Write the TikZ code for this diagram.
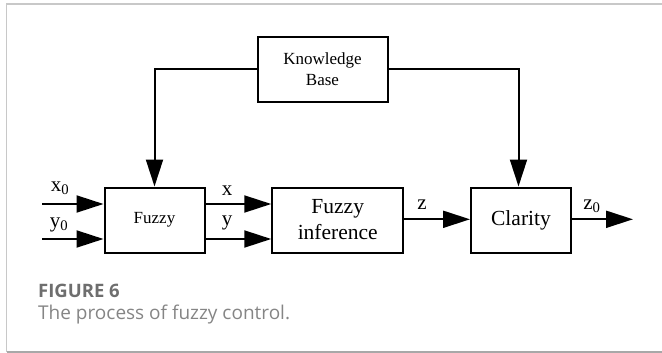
\documentclass[tikz,border=0pt]{standalone}
\usepackage{fontspec}
\setmainfont{Liberation Serif}
\newfontfamily\capfont{Open Sans}
\usetikzlibrary{arrows.meta}
\definecolor{framegray}{HTML}{C8C8C8}
\definecolor{framedark}{HTML}{A8A8A8}
\definecolor{captitle}{HTML}{6E6E6E}
\definecolor{captext}{HTML}{858585}
\tikzset{
  block/.style={draw, line width=2pt, rectangle, inner sep=0pt, align=center},
  flow/.style={line width=2pt, -{Triangle[length=27pt,width=17pt]}},
  sig/.style={inner sep=0pt, font=\fontsize{21}{24}\selectfont},
}
\begin{document}
\begin{tikzpicture}[x=1pt, y=-1pt]
  \useasboundingbox (0,0) rectangle (662,353);
  % outer frame
  \draw[framegray, line width=1.5pt] (6.5,352) -- (6.5,4) -- (662,4);
  \draw[framedark, line width=1.5pt] (6.5,352) -- (662,352);

  % blocks
  \node[block, minimum width=130pt, minimum height=65pt,
        font=\fontsize{17}{21}\selectfont] (kb) at (322.5,69.5) {Knowledge\\Base};
  \node[block, minimum width=100pt, minimum height=65pt,
        font=\fontsize{17}{20}\selectfont] (fz) at (154.5,220) {Fuzzy};
  \node[block, minimum width=131pt, minimum height=65pt,
        font=\fontsize{21.5}{26}\selectfont] (fi) at (337.75,220) {Fuzzy\\inference};
  \node[block, minimum width=100pt, minimum height=65pt,
        font=\fontsize{21.5}{26}\selectfont] (cl) at (521,220) {Clarity};

  % free ends of the inputs and the output
  \coordinate (inx) at (42,204);
  \coordinate (iny) at (42,239);
  \coordinate (out) at (633,219.3);

  % knowledge base feeds fuzzification and defuzzification
  \draw[flow] (kb.west) -| (fz.north);
  \draw[flow] (kb.east) -| ([xshift=-2.5pt]cl.north);

  % signal path
  \draw[flow] (inx) -- (inx -| fz.west);
  \draw[flow] (iny) -- (iny -| fz.west);
  \draw[flow] (inx -| fz.east) -- (inx -| fi.west);
  \draw[flow] (iny -| fz.east) -- (iny -| fi.west);
  \draw[flow] (fi.east |- out) -- (cl.west |- out);
  \draw[flow] (cl.east |- out) -- (out);

  % signal labels
  \node[sig] (lx0) at (60,188) {x\textsubscript{0}};
  \node[sig] (ly0) at (59,225) {y\textsubscript{0}};
  \node[sig] (lx) at (227,191) {x};
  \node[sig] (ly) at (227,223) {y};
  \node[sig] (lz) at (422,205) {z};
  \node[sig] (lz0) at (592,206) {z\textsubscript{0}};

  % caption
  \node[anchor=west, inner sep=0pt, text=captitle,
        font=\capfont\bfseries\fontsize{18.5}{22}\selectfont] (ftitle) at (38,291) {FIGURE 6};
  \node[anchor=west, inner sep=0pt, text=captext,
        font=\capfont\fontsize{19}{22}\selectfont] (ftext) at (38,315) {The process of fuzzy control.};
\end{tikzpicture}
\end{document}
